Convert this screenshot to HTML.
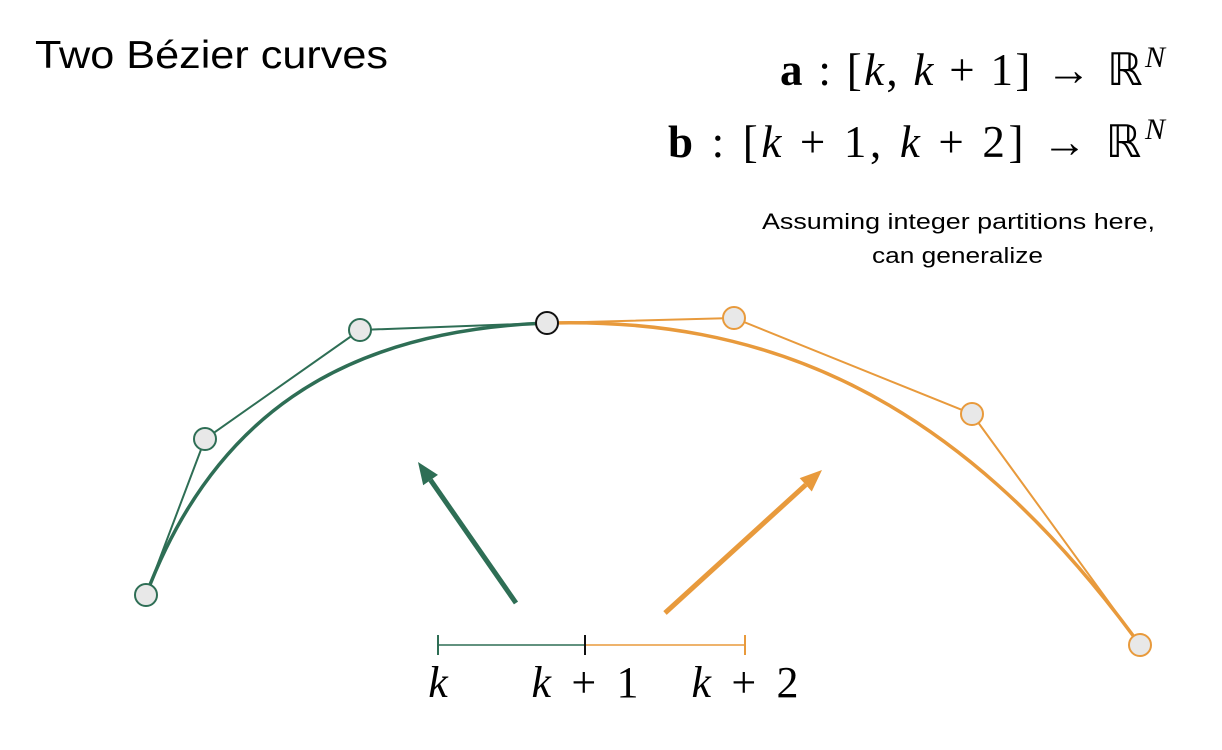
<!DOCTYPE html>
<html><head><meta charset="utf-8"><style>
html,body{margin:0;padding:0;background:#fff;}
svg{display:block;}
.m{font-family:"Liberation Serif",serif;}
</style></head><body>
<svg id="chart" width="1222" height="750" viewBox="0 0 1222 750" xmlns="http://www.w3.org/2000/svg">
<text x="35" y="68" font-family="Liberation Sans, sans-serif" font-size="39" textLength="353" lengthAdjust="spacingAndGlyphs" fill="#000">Two Bézier curves</text>
<text class="m" x="780" y="85" font-size="45" textLength="385" lengthAdjust="spacing" fill="#000"><tspan font-weight="bold">a</tspan> : [<tspan font-style="italic">k</tspan>, <tspan font-style="italic">k</tspan> + 1] → ℝ<tspan font-size="30" dy="-18" font-style="italic">N</tspan></text>
<text class="m" x="668" y="157" font-size="45" textLength="497" lengthAdjust="spacing" fill="#000"><tspan font-weight="bold">b</tspan> : [<tspan font-style="italic">k</tspan> + 1, <tspan font-style="italic">k</tspan> + 2] → ℝ<tspan font-size="30" dy="-18" font-style="italic">N</tspan></text>
<text x="762" y="229" font-family="Liberation Sans, sans-serif" font-size="22" textLength="393" lengthAdjust="spacingAndGlyphs" fill="#000">Assuming integer partitions here,</text>
<text x="872" y="263" font-family="Liberation Sans, sans-serif" font-size="22" textLength="171" lengthAdjust="spacingAndGlyphs" fill="#000">can generalize</text>
<g id="g"></g>
</svg>
<script>
const greenX=[146,205,360,547];
const greenY=[595,439,330,323];
const orangeX=[547,734,972,1140];
const orangeY=[323,318,414,645];
const lineTicks=[438,585,745];
const tickLabels=["k","k + 1","k + 2"];
const GREEN="#2e6e55",ORANGE="#e89a3c";
const NS="http://www.w3.org/2000/svg";
const g=document.getElementById('g');
function mk(t,a){const e=document.createElementNS(NS,t);for(const k in a)e.setAttribute(k,a[k]);g.appendChild(e);return e;}
function curve(xs,ys,col,name){
  let p=mk('polyline',{points:xs.map((x,i)=>x+','+ys[i]).join(' '),fill:'none',stroke:col,'stroke-width':2});
  
  
  const f=1.12;
  const c1x=xs[0]+f*(xs[1]-xs[0]),c1y=ys[0]+f*(ys[1]-ys[0]);
  const c2x=xs[3]+f*(xs[2]-xs[3]),c2y=ys[3]+f*(ys[2]-ys[3]);
  let c=mk('path',{d:`M${xs[0]},${ys[0]} C${c1x},${c1y} ${c2x},${c2y} ${xs[3]},${ys[3]}`,fill:'none',stroke:col,'stroke-width':3.5});
  
  
}
curve(greenX,greenY,GREEN,'green');
curve(orangeX,orangeY,ORANGE,'orange');
function pts(xs,ys,col,name,skipLast){
  xs.forEach((x,i)=>{
    if(skipLast&&i==xs.length-1)return;
    if(!skipLast&&i==0)return;
    let c=mk('circle',{cx:x,cy:ys[i],r:11,fill:'#e8e8e8',stroke:col,'stroke-width':2});
    
    
  });
}
pts(greenX,greenY,GREEN,'green',true);
pts(orangeX,orangeY,ORANGE,'orange',false);
let j=mk('circle',{cx:greenX[3],cy:greenY[3],r:11,fill:'#e8e8e8',stroke:'#111','stroke-width':2});


function arrow(x1,y1,x2,y2,col,name){
  const a=Math.atan2(y2-y1,x2-x1),L=22,W=9;
  const bx=x2-L*Math.cos(a),by=y2-L*Math.sin(a);
  let l=mk('line',{x1:x1,y1:y1,x2:bx,y2:by,stroke:col,'stroke-width':5});
  
  
  let h=mk('polygon',{points:`${x2},${y2} ${bx+W*Math.sin(a)},${by-W*Math.cos(a)} ${bx-W*Math.sin(a)},${by+W*Math.cos(a)}`,fill:col});
  
  
}
arrow(516,603,418,462,GREEN,'green-arrow');
arrow(665,613,822,470,ORANGE,'orange-arrow');
const ny=645;
let s1=mk('line',{x1:lineTicks[0],y1:ny,x2:lineTicks[1],y2:ny,stroke:GREEN,'stroke-width':1.5});


let s2=mk('line',{x1:lineTicks[1],y1:ny,x2:lineTicks[2],y2:ny,stroke:ORANGE,'stroke-width':1.5});


const tcol=[GREEN,'#111',ORANGE];
lineTicks.forEach((x,i)=>{
  let t=mk('line',{x1:x,y1:ny-10,x2:x,y2:ny+10,stroke:tcol[i],'stroke-width':2});
  
  
  const attrs={x:x,y:697,'text-anchor':'middle','font-family':'Liberation Serif, serif','font-size':44,fill:'#000'};
  if(tickLabels[i].length>1){attrs.textLength=107;attrs.lengthAdjust='spacing';}
  let tx=mk('text',attrs);
  
  
  const parts=tickLabels[i].split(' ');
  parts.forEach((p,k)=>{const ts=document.createElementNS(NS,'tspan');if(p==='k')ts.setAttribute('font-style','italic');ts.textContent=(k?' ':'')+p;tx.appendChild(ts);});
});
</script>
</body></html>
